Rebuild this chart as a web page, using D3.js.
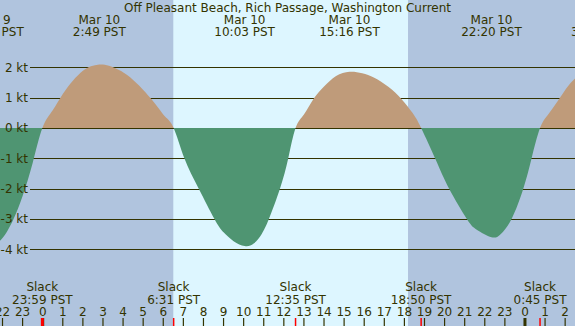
<!DOCTYPE html>
<html>
<head>
<meta charset="utf-8">
<script src="https://cdn.jsdelivr.net/npm/d3@7"></script>
<style>
html,body{margin:0;padding:0;background:#b0c4de;}
svg{display:block;}
text{font-family:"DejaVu Sans",sans-serif;font-size:12px;fill:#333300;}
</style>
</head>
<body>
<script>
// ---- data (hours relative to Mar 10 00:00 PST) ----
const titleText = "Off Pleasant Beach, Rich Passage, Washington Current";
const curveHours = [-3.0,-2.45,-2.0,-1.48,-1.0,-0.5,-0.017,0.5,1.0,1.5,2.0,2.4,2.817,3.3,3.9,4.5,5.1,5.7,6.1,6.517,
  7.05,7.76,8.54,9.0,9.5,10.05,10.5,10.9,11.26,11.81,12.22,12.583,
  13.0,13.5,14.0,14.6,15.267,15.9,16.5,17.2,17.86,18.4,18.833,
  19.56,20.22,21.1,21.6,22.333,22.8,23.34,23.92,24.33,24.75,
  25.2,25.74,26.1,26.49,27.0,27.61];
const curveKnots = [-3.75,-3.8,-3.64,-3.05,-2.25,-1.16,0,0.59,1.12,1.56,1.89,2.04,2.1,2.06,1.88,1.59,1.19,0.71,0.37,0,
  -1.0,-2.0,-3.0,-3.45,-3.74,-3.9,-3.82,-3.5,-3.0,-2.0,-1.0,0,
  0.45,0.98,1.37,1.72,1.86,1.81,1.66,1.36,0.95,0.5,0,
  -1.05,-2.0,-3.0,-3.36,-3.61,-3.5,-3.0,-2.0,-1.0,0,
  0.49,1.0,1.35,1.64,1.89,2.0];
const maxHours = [-2.45, 2.817, 10.05, 15.267, 22.333, 27.61];
const maxDates = ["Mar 9","Mar 10","Mar 10","Mar 10","Mar 10","Mar 11"];
const maxTimes = ["21:33 PST","2:49 PST","10:03 PST","15:16 PST","22:20 PST","3:37 PST"];
const slackHours = [-0.017, 6.517, 12.583, 18.833, 24.75];
const slackTimes = ["23:59 PST","6:31 PST","12:35 PST","18:50 PST","0:45 PST"];
const hourTickHours = [-2,-1,0,1,2,3,4,5,6,7,8,9,10,11,12,13,14,15,16,17,18,19,20,21,22,23,24,25,26];
const hourTickLabels = ["22","23","0","1","2","3","4","5","6","7","8","9","10","11","12","13","14","15","16","17","18","19","20","21","22","23","0","1","2"];
const midnightHours = [0, 24];
const ktTicks = [2,1,0,-1,-2,-3,-4];
const ktLabels = ["2 kt","1 kt","0 kt","-1 kt","-2 kt","-3 kt","-4 kt"];
const dayStart = [6.5];
const dayEnd = [18.18];

// ---- layout ----
const W = 575, H = 326;
const x = d3.scaleLinear().domain([-2.125, 26.49]).range([0, W]);
const y = d3.scaleLinear().domain([-6.545, 4.231]).range([H, 0]);

const C = {night:"#b0c4de", day:"#ddf6ff", flood:"#bf9b7a", ebb:"#4f9572", ink:"#333300", slack:"#ff0000"};

const svg = d3.select("body").append("svg").attr("width", W).attr("height", H);

svg.append("rect").attr("width", W).attr("height", H).attr("fill", C.night);
svg.selectAll("rect.day").data(dayStart).enter().append("rect").attr("class","day")
  .attr("x", (d,i)=>x(d)).attr("y",0).attr("width",(d,i)=>x(dayEnd[i])-x(d)).attr("height",H)
  .attr("fill", C.day);

// grid lines
svg.selectAll("line.grid").data(ktTicks).enter().append("line").attr("class","grid")
  .attr("x1", 30).attr("x2", W)
  .attr("y1", d=>Math.round(y(d))+0.5).attr("y2", d=>Math.round(y(d))+0.5)
  .attr("stroke", C.ink).attr("stroke-width", 1);

// area
const pts = curveHours.map((h,i)=>({h, v: curveKnots[i]}));
const y0 = Math.round(y(0));
const defs = svg.append("defs");
defs.append("clipPath").attr("id","above").append("rect").attr("x",0).attr("y",0).attr("width",W).attr("height",y0);
defs.append("clipPath").attr("id","below").append("rect").attr("x",0).attr("y",y0).attr("width",W).attr("height",H-y0);
const area = d3.area().x(d=>x(d.h)).y0(y(0)).y1(d=>y(d.v)).curve(d3.curveNatural);
svg.append("path").datum(pts).attr("d", area).attr("fill", C.flood).attr("clip-path","url(#above)");
svg.append("path").datum(pts).attr("d", area).attr("fill", C.ebb).attr("clip-path","url(#below)");

// y labels
svg.selectAll("text.kt").data(ktTicks).enter().append("text").attr("class","kt")
  .attr("x", 28).attr("y", d=>y(d)+4.5).attr("text-anchor","end").text((d,i)=>ktLabels[i]);

// title
svg.append("text").attr("x", W/2).attr("y", 12).attr("text-anchor","middle").text(titleText);

// max labels
const mg = svg.selectAll("g.max").data(maxHours).enter().append("g").attr("class","max");
mg.append("text").attr("x", d=>x(d)).attr("y", 24).attr("text-anchor","middle").text((d,i)=>maxDates[i]);
mg.append("text").attr("x", d=>x(d)).attr("y", 36).attr("text-anchor","middle").text((d,i)=>maxTimes[i]);

// slack labels
const sg = svg.selectAll("g.slack").data(slackHours).enter().append("g").attr("class","slack");
sg.append("text").attr("x", d=>x(d)).attr("y", 291).attr("text-anchor","middle").text("Slack");
sg.append("text").attr("x", d=>x(d)).attr("y", 304).attr("text-anchor","middle").text((d,i)=>slackTimes[i]);

// hour ticks
svg.selectAll("text.hr").data(hourTickHours).enter().append("text").attr("class","hr")
  .attr("x", d=>x(d)).attr("y", 316).attr("text-anchor","middle").text((d,i)=>hourTickLabels[i]);
svg.selectAll("line.hr").data(hourTickHours).enter().append("line").attr("class","hr")
  .attr("x1", d=>x(d)).attr("x2", d=>x(d)).attr("y1", 318).attr("y2", H)
  .attr("stroke", C.ink).attr("stroke-width", 1.2);
svg.selectAll("line.mid").data(midnightHours).enter().append("line").attr("class","mid")
  .attr("x1", d=>x(d)).attr("x2", d=>x(d)).attr("y1", 318).attr("y2", H)
  .attr("stroke", C.ink).attr("stroke-width", 3);
svg.selectAll("line.sl").data(slackHours).enter().append("line").attr("class","sl")
  .attr("x1", d=>x(d)).attr("x2", d=>x(d)).attr("y1", 318).attr("y2", H)
  .attr("stroke", C.slack).attr("stroke-width", (d,i)=> i===0 ? 3 : 1.5);
</script>
</body>
</html>
